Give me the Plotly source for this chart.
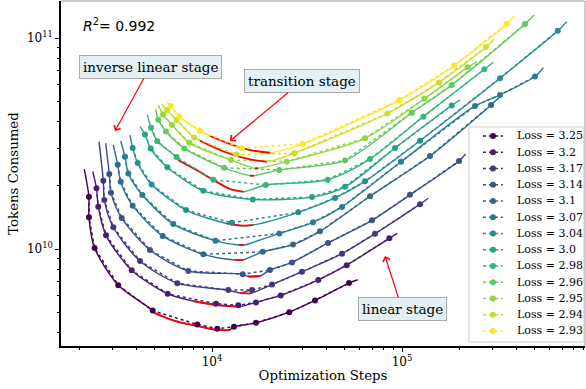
import plotly.graph_objects as go
from plotly.colors import sample_colorscale

losses = [3.25, 3.2, 3.17, 3.14, 3.1, 3.07, 3.04, 3.0, 2.98, 2.96, 2.95, 2.94, 2.93]
batch_sizes = [3840, 3072, 2048, 1024, 512, 256, 192, 160, 128, 96, 80, 64]
seq_len = 2048

# optimization steps of each run, per batch size (None = no run)
steps_325 = [2250, 2250, 2410, 3210, 4870, 8370, 10660, 13060, 17040, 25520, 34840, 52610]
steps_320 = [2466, 2521, 2768, 3779, 5846, 10500, 13750, 17040, 22990, 36270, 51150, 85750]
steps_317 = [2679, 2712, 3024, 4180, 6567, 12180, 16240, 20690, 29770, 48330, 72090, 124400]
steps_314 = [2880, 2940, 3347, 4717, 7504, 14500, 20200, 26370, 40780, 69520, 110200, 199500]
steps_310 = [3189, 3307, 3825, 5502, 9000, 18490, 26690, 37020, 67860, 140400, 294100, None]
steps_307 = [3484, 3627, 4298, 6256, 10430, 22610, 34010, 48330, 98790, 242300, 328000, 501200]
steps_304 = [3825, 4063, 4815, 7297, 12700, 28460, 44400, 63870, 124400, 328000, 660100, None]
steps_300 = [4440, 4757, 5818, 9000, 16380, 33600, 50120, 91880, 182600, None, None, None]
steps_298 = [4774, 5153, 6504, 10160, 19170, 40630, 67860, 129400, 271200, None, None, None]
steps_296 = [5216, 5727, 7147, 11570, 22610, 50120, 112500, 182600, 444000, None, None, None]
steps_295 = [5522, 6158, 7595, 12590, 24730, 63870, 131000, 221700, None, None, None, None]
steps_294 = [5798, 6504, 8040, 13370, 27120, 83680, 156600, 276800, None, None, None, None]
steps_293 = [6062, 6727, 8647, 14330, 30020, 96780, 188500, 355700, None, None, None, None]
marker_steps = [steps_325, steps_320, steps_317, steps_314, steps_310, steps_307, steps_304,
                steps_300, steps_298, steps_296, steps_295, steps_294, steps_293]

# fitted curve: first and last points
fit_start_steps = [2128, 2356, 2543, 2757, 3023, 3307, 3702, 4180, 4566, 5054, 5216, 5436, 5775]
fit_start_tokens = [2.39e10, 2.33e10, 3.23e10, 3.17e10, 3.11e10, 3.25e10, 3.47e10, 3.80e10,
                    4.32e10, 4.59e10, 4.81e10, 4.87e10, 4.99e10]
fit_end_steps = [58460, 94470, 137500, 216400, 325100, 554100, 736000, 202000, 302400,
                 495200, 249000, 305000, 390000]
fit_end_tokens = [7.15e9, 1.187e10, 1.739e10, 2.82e10, 5.236e10, 7.23e10, 1.195e11, 5.085e10,
                  7.67e10, 1.285e11, 7.72e10, 9.86e10, 1.276e11]

# transition-stage part of the fitted curve (red)
red_steps = [
    [4874, 6387, 8368, 10660, 12290],
    [7943, 10500, 14040],
    [14040, 15850],
    [15470, 17890],
    [13220, 14560],
    [13870, 14740],
    [11950, 14040, 16430],
    [],
    [6646, 8647, 10370, 12440, 14610],
    [15850, 16630],
    [16830, 17460],
    [8647, 11710, 15850, 19410],
    [9761, 12440, 15850, 20200],
]
red_tokens = [
    [5.03e9, 4.56e9, 4.32e9, 4.13e9, 4.13e9],
    [5.67e9, 5.43e9, 5.34e9],
    [6.19e9, 6.15e9],
    [7.41e9, 7.45e9],
    [8.87e9, 8.87e9],
    [1.045e10, 1.045e10],
    [1.321e10, 1.292e10, 1.299e10],
    [],
    [2.641e10, 2.317e10, 2.101e10, 1.925e10, 1.869e10],
    [2.225e10, 2.225e10],
    [2.413e10, 2.413e10],
    [3.261e10, 2.882e10, 2.656e10, 2.593e10],
    [3.432e10, 3.145e10, 2.945e10, 2.860e10],
]

colors = sample_colorscale("Viridis", [i / (len(losses) - 1) for i in range(len(losses))])

fig = go.Figure()
FONT = "DejaVu Serif"

for i, loss in enumerate(losses):
    c = colors[i]
    ms, mt = [], []
    for s, b in zip(marker_steps[i], batch_sizes):
        if s is None:
            continue
        ms.append(s)
        mt.append(s * b * seq_len)
    rs, rt = red_steps[i], red_tokens[i]
    lo, hi = (min(rs), max(rs)) if rs else (None, None)
    pts = [(fit_start_steps[i], fit_start_tokens[i])]
    for s, t in zip(ms, mt):
        if lo is not None and lo <= s <= hi:
            continue
        pts.append((s, t))
    pts += list(zip(rs, rt))
    pts.append((fit_end_steps[i], fit_end_tokens[i]))
    pts.sort(key=lambda p: -p[1] / p[0])
    fig.add_trace(go.Scatter(x=[p[0] for p in pts], y=[p[1] for p in pts], mode="lines",
                             line=dict(color=c, width=1.4, shape="spline", smoothing=0.8),
                             showlegend=False, hoverinfo="skip"))
    if rs:
        fig.add_trace(go.Scatter(x=rs, y=rt, mode="lines",
                                 line=dict(color="red", width=1.8, shape="spline", smoothing=0.8),
                                 showlegend=False, hoverinfo="skip"))
    fig.add_trace(go.Scatter(x=ms, y=mt, mode="lines+markers", name=f"Loss = {loss}",
                             line=dict(color=c, width=1.5, dash="dot"),
                             marker=dict(color=c, size=6), showlegend=False))

minor_x = [m * 10 ** e for e in (3, 4, 5) for m in range(2, 10)]
minor_y = [m * 10 ** e for e in (9, 10, 11) for m in range(2, 10)]

# legend box drawn in the lower right corner (paper coordinates)
LEG_X0, LEG_X1, LEG_Y0, LEG_Y1 = 0.7786, 0.998, 0.0116, 0.6348
ROW_TOP, ROW_STEP = 0.6087, 0.0471
SYM_X0, SYM_X1, SYM_XM, TXT_X = 0.8053, 0.8435, 0.8244, 0.8664

shapes = [
    dict(type="line", xref="paper", yref="paper", x0=0, x1=1, y0=1, y1=1,
         line=dict(color="#999999", width=1)),
    dict(type="line", xref="paper", yref="paper", x0=1, x1=1, y0=0, y1=1,
         line=dict(color="#999999", width=1)),
    dict(type="rect", xref="paper", yref="paper", x0=LEG_X0, x1=LEG_X1, y0=LEG_Y0, y1=LEG_Y1,
         fillcolor="rgba(255,255,255,0.85)", line=dict(color="#cccccc", width=1)),
]
annotations = []
for i, loss in enumerate(losses):
    yy = ROW_TOP - i * ROW_STEP
    shapes.append(dict(type="line", xref="paper", yref="paper", x0=SYM_X0, x1=SYM_X1,
                       y0=yy, y1=yy, line=dict(color=colors[i], width=1.5, dash="dot")))
    shapes.append(dict(type="circle", xref="paper", yref="paper", xsizemode="pixel",
                       ysizemode="pixel", xanchor=SYM_XM, yanchor=yy, x0=-3, x1=3, y0=-3, y1=3,
                       fillcolor=colors[i], line=dict(color=colors[i], width=0)))
    annotations.append(dict(x=TXT_X, y=yy, xref="paper", yref="paper", xanchor="left",
                            yanchor="middle", text=f"Loss = {loss}", showarrow=False,
                            font=dict(family=FONT, size=11, color="black")))

fig.update_layout(
    width=586, height=389,
    margin=dict(l=61, r=1, t=1, b=43),
    plot_bgcolor="white", paper_bgcolor="white",
    font=dict(family=FONT, size=12, color="black"),
    showlegend=False,
    xaxis=dict(type="log", range=[3.2053, 5.963], showgrid=False, zeroline=False,
               showline=True, linecolor="black", linewidth=1.5,
               ticks="outside", ticklen=4, tickwidth=1, tickcolor="black",
               tickvals=[1e4, 1e5], ticktext=["10<sup>4</sup>", "10<sup>5</sup>"],
               tickfont=dict(size=12),
               minor=dict(tickvals=minor_x, ticks="outside", ticklen=2, tickwidth=0.8,
                          tickcolor="black"),
               title=dict(text="Optimization Steps", font=dict(size=13.3), standoff=3)),
    yaxis=dict(type="log", range=[9.5403, 11.1754], showgrid=False, zeroline=False,
               showline=True, linecolor="black", linewidth=1.5,
               ticks="outside", ticklen=4, tickwidth=1, tickcolor="black",
               tickvals=[1e10, 1e11], ticktext=["10<sup>10</sup>", "10<sup>11</sup>"],
               tickfont=dict(size=12),
               minor=dict(tickvals=minor_y, ticks="outside", ticklen=2, tickwidth=0.8,
                          tickcolor="black"),
               title=dict(text="Tokens Consumed", font=dict(size=13.3), standoff=5)),
    shapes=shapes,
    annotations=annotations,
)

box = dict(bgcolor="#e4f0f4", bordercolor="#aaaaaa", borderwidth=1, borderpad=3,
           font=dict(family=FONT, size=13.5, color="black"),
           showarrow=True, arrowcolor="red", arrowwidth=1.2, arrowhead=4, arrowsize=1.2)
fig.add_annotation(x=3.4895, y=10.5592, xref="x", yref="y", text="inverse linear stage",
                   ax=35, ay=-64, **box)
fig.add_annotation(x=4.0947, y=10.5118, xref="x", yref="y", text="transition stage",
                   ax=72, ay=-60, **box)
fig.add_annotation(x=4.9105, y=9.9668, xref="x", yref="y", text="linear stage",
                   ax=17, ay=53, **box)
fig.add_annotation(x=0.038, y=0.93, xref="paper", yref="paper", xanchor="left", yanchor="middle",
                   text="<i>R</i><sup>2</sup>= 0.992", showarrow=False,
                   font=dict(family="DejaVu Sans", size=14, color="black"))

fig.write_html("out.html")
